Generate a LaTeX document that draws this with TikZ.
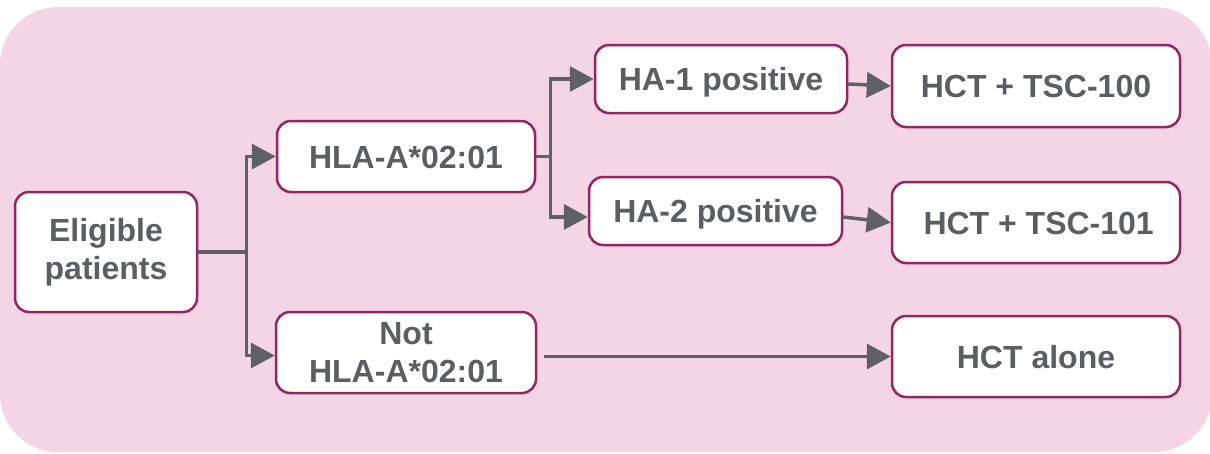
\documentclass[tikz,border=0pt]{standalone}
\usepackage{fontspec}
\setmainfont{Liberation Sans}
\usetikzlibrary{arrows.meta,calc}
\definecolor{bgpink}{HTML}{F3D5E6}
\definecolor{boxborder}{HTML}{96245F}
\definecolor{txtgray}{HTML}{5D5E63}
\definecolor{arrgray}{HTML}{5F6066}
\tikzset{
  box/.style={draw=boxborder, line width=2.5pt, fill=white, rounded corners=14pt,
    inner sep=0pt, align=center, text=txtgray,
    font=\fontsize{32}{38}\selectfont\bfseries},
  oneline/.style={text height=23pt, text depth=0pt},
  conn/.style={draw=arrgray, line width=3.5pt},
  arr/.style={conn, -{Triangle[length=24pt,width=25pt]}}
}
\begin{document}
\begin{tikzpicture}[x=1pt,y=-1pt]
\useasboundingbox (0,0) rectangle (1210,453);
\fill[bgpink, rounded corners=58pt] (0,7) rectangle (1212,452);

\node[box, minimum width=182pt, minimum height=120pt] (elig) at (106,252) {Eligible\\patients};
\node[box, oneline, minimum width=258pt, minimum height=71pt] (hla) at (406,156.5) {HLA-A*02:01};
\node[box, minimum width=260pt, minimum height=81pt] (nothla) at (406,352.5) {Not\\HLA-A*02:01};
\node[box, oneline, minimum width=252pt, minimum height=68pt] (ha1) at (721,79) {HA-1 positive};
\node[box, oneline, minimum width=253pt, minimum height=68pt] (ha2) at (715.5,211) {HA-2 positive};
\node[box, oneline, minimum width=288pt, minimum height=82pt] (hct100) at (1036,86) {HCT + TSC-100};
\node[box, oneline, minimum width=288pt, minimum height=81pt] (hct101) at (1036,222.5) {\,HCT + TSC-101};
\node[box, oneline, minimum width=288pt, minimum height=81pt] (alone) at (1036,356.5) {HCT alone};

\draw[conn] (elig.east) -- ++(48,0) coordinate (j1);
\draw[arr] (j1) |- (hla.west);
\draw[arr] (j1) |- ([yshift=-3pt]nothla.west);

\draw[conn] (hla.east) -- ++(14,0) coordinate (j2);
\draw[arr] (j2) |- (ha1.west);
\draw[arr] (j2) |- ([yshift=-6pt]ha2.west);

\draw[arr] ([yshift=-5pt]ha1.east) -- (hct100.west);
\draw[arr] ([yshift=-6pt]ha2.east) -- (hct101.west);
\draw[arr] ([xshift=7pt,yshift=-4pt]nothla.east) -- (alone.west);
\end{tikzpicture}
\end{document}
